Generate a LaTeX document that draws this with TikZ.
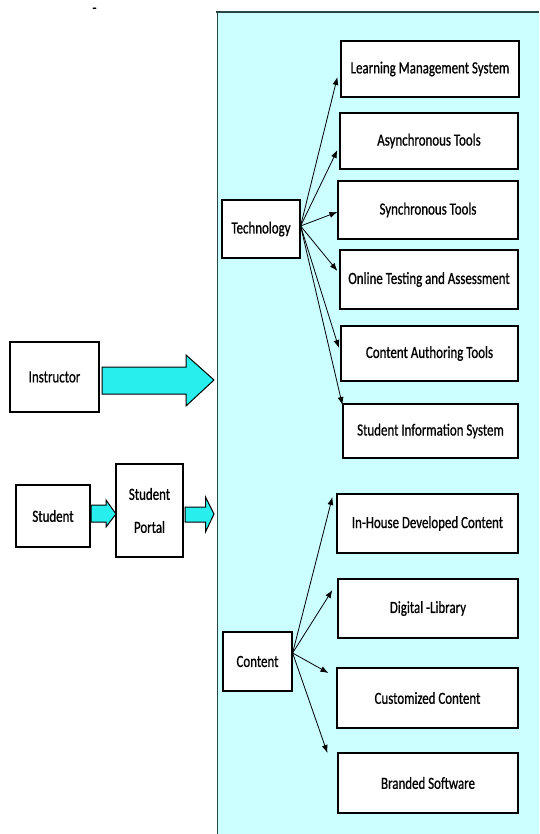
\documentclass[tikz,border=0pt]{standalone}
\usepackage{fontspec}
\setmainfont{Carlito}[FakeStretch=0.76, FakeBold=0.8]
\usetikzlibrary{arrows.meta,calc}

\definecolor{panelfill}{RGB}{204,255,255}
\definecolor{panelline}{RGB}{40,70,70}
\definecolor{flowfill}{RGB}{40,238,238}

\tikzset{
  box/.style={draw=black, line width=1.2pt, fill=white, inner sep=0pt,
              align=center, font=\fontsize{17}{20}\selectfont},
  conn/.style={line width=0.8pt, -{Latex[length=8pt,width=6pt]}},
  flow/.style={draw=black, line width=1pt, fill=flowfill, line join=miter}
}

\begin{document}
\begin{tikzpicture}[x=1pt, y=-1pt]
\useasboundingbox (0,0) rectangle (539,834);

% shaded area holding the technology and content blocks
\fill[panelfill] (217,12) rectangle (539,834);
\draw[panelline, line width=1pt] (217,834) -- (217,12);
\draw[panelline, line width=2pt] (216,12) -- (539,12);

% small dash at the top
\node[font=\fontsize{17}{20}\selectfont, inner sep=0pt, anchor=base] (dash) at (94.5,13) {-};

% people on the left
\node[box, minimum width=89pt, minimum height=70pt] (instr) at (54.5,377) {Instructor};
\node[box, minimum width=74pt, minimum height=62pt] (stud) at (53,516) {Student};
\node[box, minimum width=67pt, minimum height=93pt, font=\fontsize{17}{33}\selectfont] (portal) at (149.5,510.5) {Student\\Portal};

% block arrows into the panel
\draw[flow] (102,367) -- (186,367) -- (186,355) -- (214,380) -- (186,406) -- (186,394) -- (102,394) -- cycle;
\draw[flow] (91,505) -- (106,505) -- (106,500) -- (116,514) -- (106,527) -- (106,522) -- (91,522) -- cycle;
\draw[flow] (185,507) -- (205.5,507) -- (205.5,497) -- (214,514) -- (205.5,532) -- (205.5,522) -- (185,522) -- cycle;

% main categories
\node[box, minimum width=78pt, minimum height=58pt] (tech) at (261,229) {Technology};
\node[box, minimum width=69pt, minimum height=59pt] (cont) at (257.5,661.5) {Content};

% technology items
\node[box, minimum width=178pt, minimum height=56pt] (lms) at (430,69) {Learning Management System};
\node[box, minimum width=178pt, minimum height=56pt] (async) at (429,141) {Asynchronous Tools};
\node[box, minimum width=180pt, minimum height=58pt] (sync) at (428,210) {Synchronous Tools};
\node[box, minimum width=178pt, minimum height=59pt] (online) at (429,279.5) {Online Testing and Assessment};
\node[box, minimum width=177pt, minimum height=55pt] (author) at (429.5,353.5) {Content Authoring Tools};
\node[box, minimum width=175pt, minimum height=54pt] (sis) at (430.5,431) {Student Information System};

% content items
\node[box, minimum width=181pt, minimum height=59pt] (inhouse) at (427.5,523.5) {In-House Developed Content};
\node[box, minimum width=180pt, minimum height=59pt] (diglib) at (428,608.5) {Digital -Library};
\node[box, minimum width=181pt, minimum height=60pt] (custom) at (427.5,698) {Customized Content};
\node[box, minimum width=180pt, minimum height=60pt] (brand) at (428,783) {Branded Software};

% technology fan-out
\coordinate (tsrc) at ($(tech.east)+(0,-3)$);
\draw[conn] (tsrc) -- ($(lms.west)+(-3,8)$);
\draw[conn] (tsrc) -- ($(async.west)+(-2,9)$);
\draw[conn] (tsrc) -- ($(sync.west)+(0,2)$);
\draw[conn] (tsrc) -- ($(online.west)+(-2,-8.5)$);
\draw[conn] (tsrc) -- ($(author.west)+(-1.5,-5.5)$);
\draw[conn] (tsrc) -- ($(sis.west)+(0,-26)$);

% content fan-out
\coordinate (csrc) at ($(cont.east)+(0,-8.5)$);
\draw[conn] (csrc) -- ($(inhouse.west)+(-4,-26.5)$);
\draw[conn] (csrc) -- ($(diglib.west)+(-5,-18.5)$);
\draw[conn] (csrc) -- ($(custom.west)+(-8,-25)$);
\draw[conn] (csrc) -- ($(brand.west)+(-10,-30)$);
\end{tikzpicture}
\end{document}
